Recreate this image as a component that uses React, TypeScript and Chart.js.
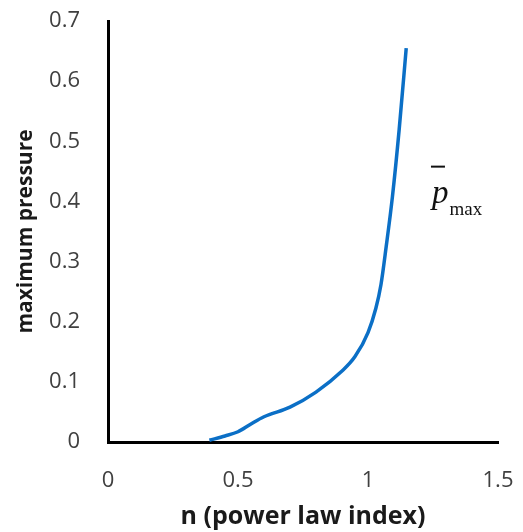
import React, { useEffect, useRef } from "react";
import { Chart, registerables } from "chart.js";

Chart.register(...registerables);

const nValues = [0.39, 0.45, 0.5, 0.55, 0.6, 0.7, 0.8, 0.9, 0.95, 1.0, 1.03, 1.05, 1.07, 1.094, 1.12, 1.147];
const pMaxValues = [0.003, 0.01, 0.017, 0.03, 0.042, 0.058, 0.083, 0.118, 0.142, 0.182, 0.222, 0.262, 0.325, 0.408, 0.52, 0.655];
const xTicks = [0, 0.5, 1, 1.5];
const yTicks = [0, 0.1, 0.2, 0.3, 0.4, 0.5, 0.6, 0.7];
const xTitle = "n (power law index)";
const yTitle = "maximum pressure";
const curveLabel = { main: "p", sub: "max", x: 1.246, y: 0.398 };

const labelPlugin = {
  id: "pmaxLabel",
  afterDatasetsDraw(chart: any) {
    const { ctx, scales } = chart;
    const px = scales.x.getPixelForValue(curveLabel.x);
    const py = scales.y.getPixelForValue(curveLabel.y);
    ctx.save();
    ctx.fillStyle = "#111";
    ctx.textBaseline = "alphabetic";
    ctx.textAlign = "left";
    ctx.font = "italic 33px 'Liberation Serif', serif";
    ctx.fillText(curveLabel.main, px, py);
    const w = ctx.measureText(curveLabel.main).width;
    ctx.font = "19px 'Liberation Serif', serif";
    ctx.fillText(curveLabel.sub, px + w + 1, py + 12);
    ctx.strokeStyle = "#111";
    ctx.lineWidth = 2;
    ctx.beginPath();
    ctx.moveTo(px - 1, py - 36);
    ctx.lineTo(px + 13, py - 36);
    ctx.stroke();
    ctx.restore();
  },
};

export default function App() {
  const ref = useRef<HTMLCanvasElement | null>(null);
  useEffect(() => {
    if (!ref.current) return;
    const chart = new Chart(ref.current, {
      type: "line",
      data: {
        datasets: [
          {
            data: nValues.map((x, i) => ({ x, y: pMaxValues[i] })),
            borderColor: "#0b6fc6",
            borderWidth: 3.5,
            pointRadius: 0,
            cubicInterpolationMode: "monotone",
            fill: false,
          },
        ],
      },
      options: {
        animation: false,
        responsive: false,
        maintainAspectRatio: false,
        layout: { padding: { top: 21, right: 25, left: 13, bottom: 0 } },
        plugins: { legend: { display: false }, tooltip: { enabled: false } },
        scales: {
          x: {
            type: "linear",
            min: 0,
            max: 1.5,
            afterBuildTicks: (s: any) => {
              s.ticks = xTicks.map((v) => ({ value: v }));
            },
            afterFit: (s: any) => {
              s.height = 90;
              s.paddingLeft = 0;
              s.paddingRight = 0;
            },
            grid: { display: false, drawTicks: false },
            border: { display: true, color: "#000", width: 3 },
            ticks: {
              padding: 26,
              color: "#404040",
              font: { family: "'Open Sans', sans-serif", size: 22 },
              maxRotation: 0,
              callback: (v: any) => String(v),
            },
            title: {
              display: true,
              text: xTitle,
              color: "#1a1a1a",
              font: { family: "'Open Sans', sans-serif", size: 25, weight: "bold" },
              padding: { top: 4, bottom: 0 },
            },
          },
          y: {
            type: "linear",
            min: 0,
            max: 0.7,
            afterBuildTicks: (s: any) => {
              s.ticks = yTicks.map((v) => ({ value: v }));
            },
            afterFit: (s: any) => {
              s.width = 95;
              s.paddingTop = 0;
              s.paddingBottom = 0;
            },
            grid: { display: false, drawTicks: false },
            border: { display: true, color: "#000", width: 3 },
            ticks: {
              padding: 28,
              color: "#404040",
              font: { family: "'Open Sans', sans-serif", size: 22 },
              callback: (v: any) => String(v),
            },
            title: {
              display: true,
              text: yTitle,
              color: "#1a1a1a",
              font: { family: "'Open Sans', sans-serif", size: 21, weight: "bold" },
              padding: { top: 0, bottom: 2 },
            },
          },
        },
      },
      plugins: [labelPlugin],
    } as any);
    return () => chart.destroy();
  }, []);
  return (
    <div style={{ position: "absolute", left: 0, top: 0, width: 523, height: 532, background: "#fff" }}>
      <canvas ref={ref} width={523} height={532} style={{ width: 523, height: 532 }} />
    </div>
  );
}
